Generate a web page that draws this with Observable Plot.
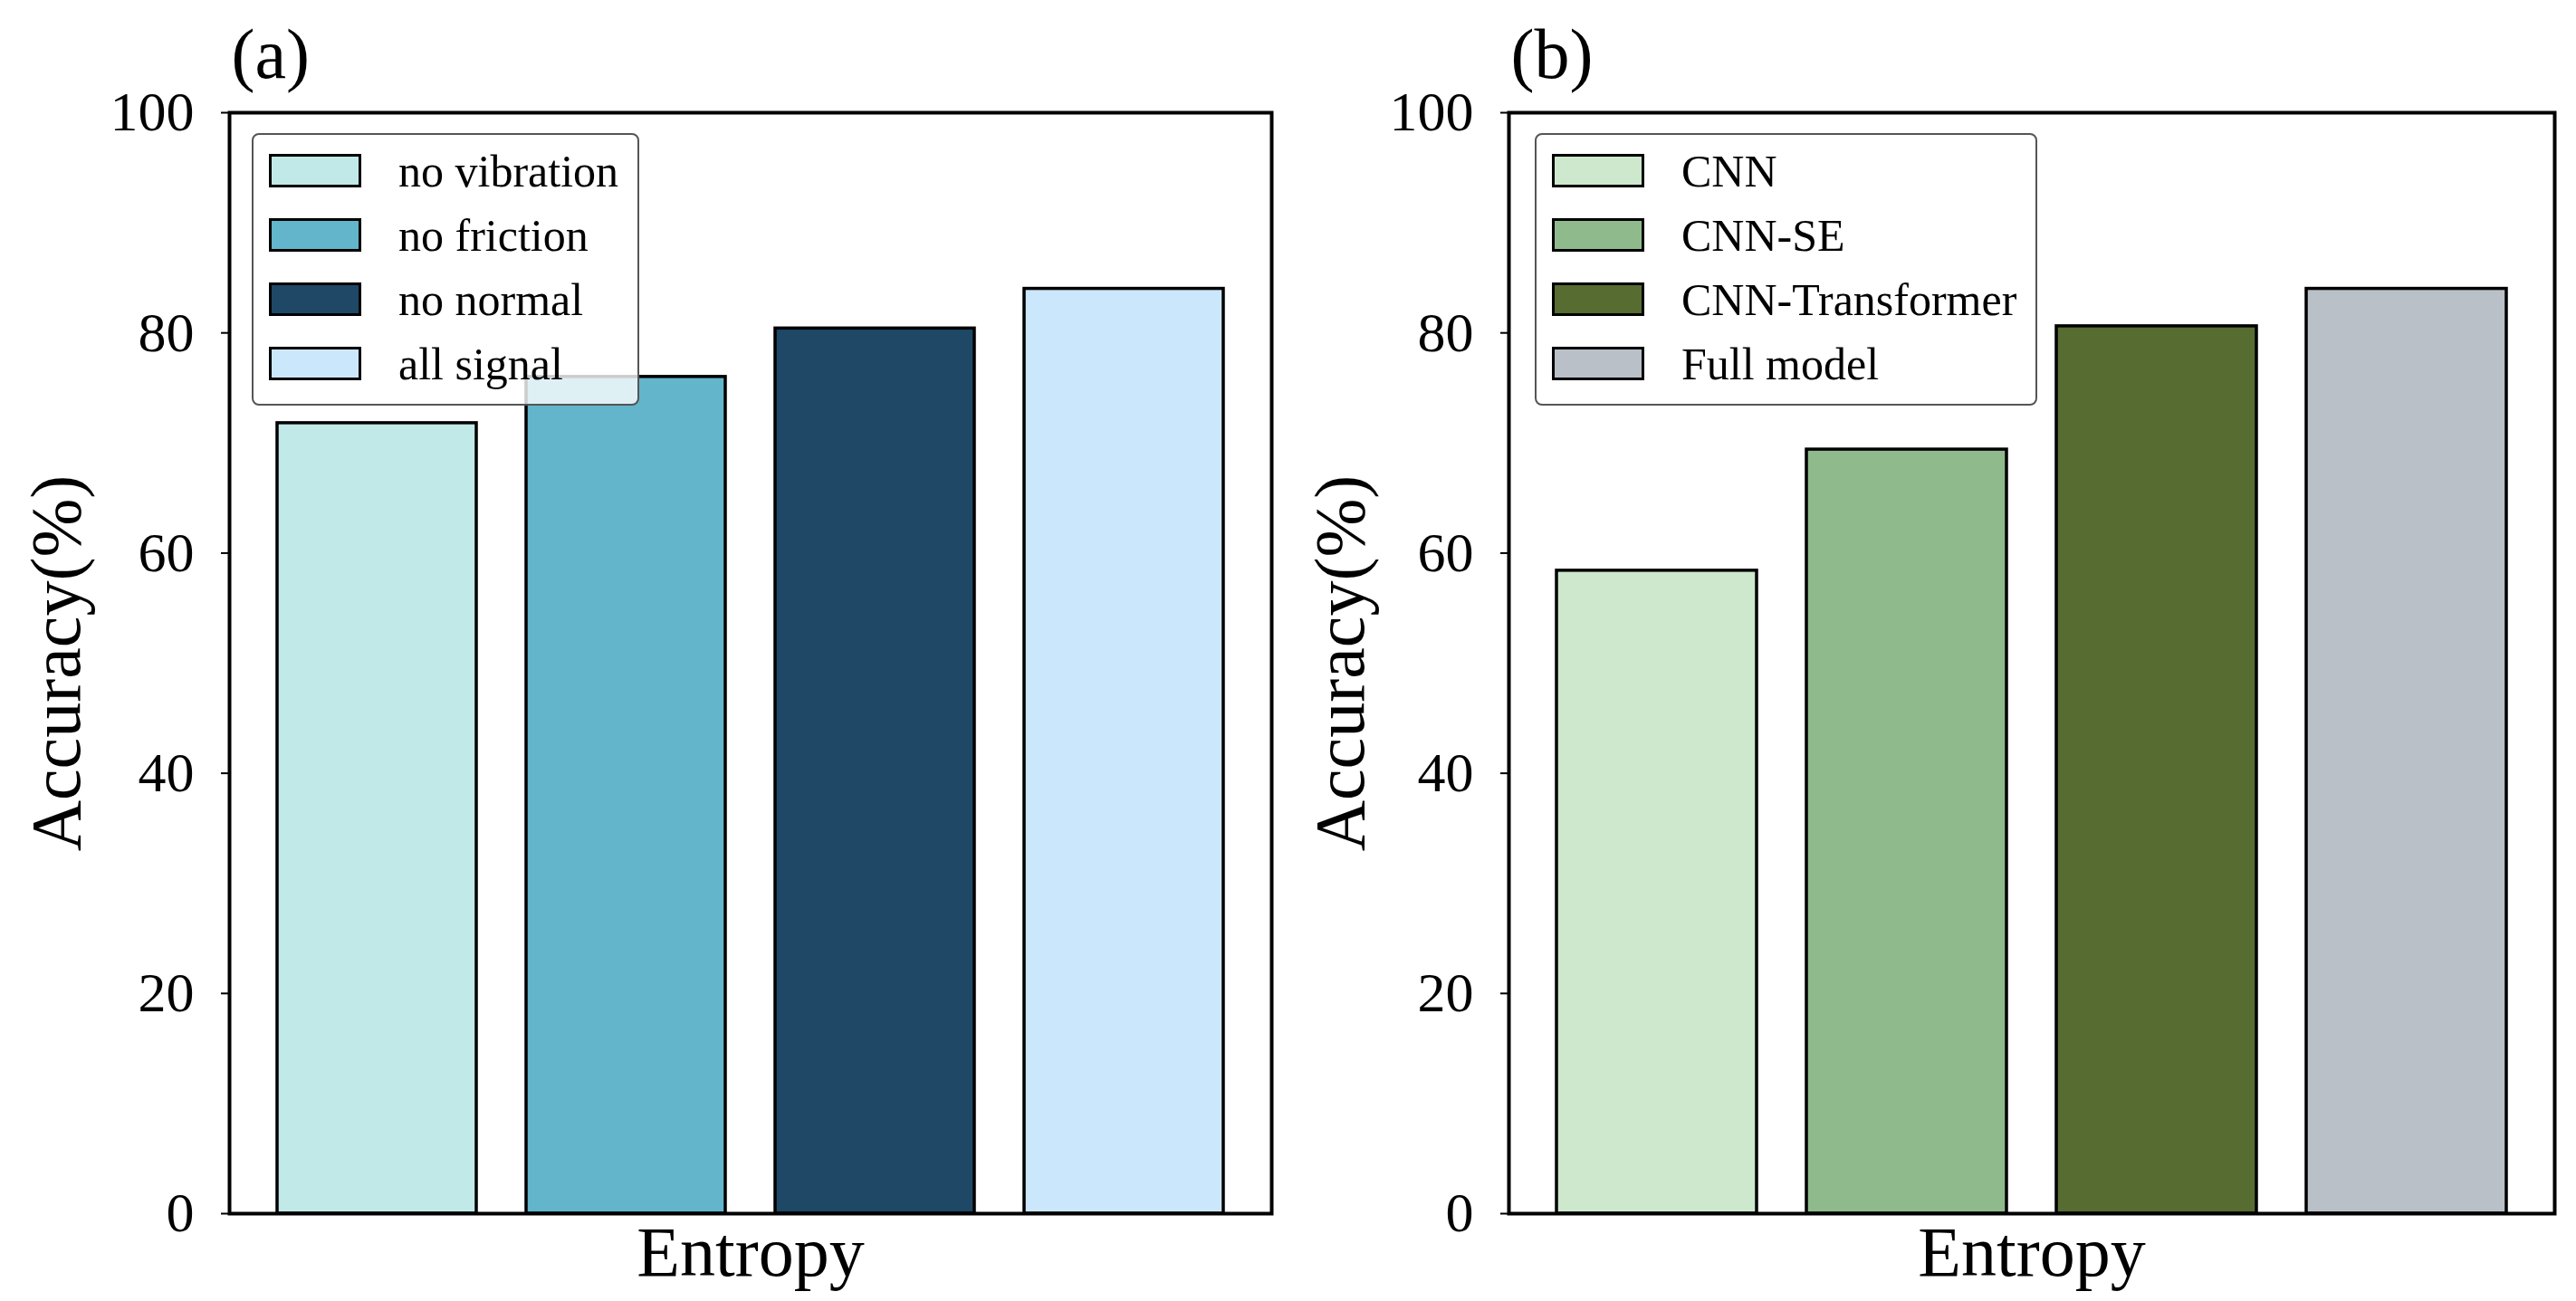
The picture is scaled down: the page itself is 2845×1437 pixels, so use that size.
<!DOCTYPE html>
<html>
<head>
<meta charset="utf-8">
<script src="https://cdn.jsdelivr.net/npm/d3@7"></script>
<script src="https://cdn.jsdelivr.net/npm/@observablehq/plot@0.6"></script>
<style>
  body { margin: 0; background: #fff; overflow: hidden; font-family: "Liberation Serif", "Times New Roman", serif; }
  #fig { display: flex; width: 2845px; height: 1437px; }
  .panel { position: relative; }
  .legend {
    position: absolute; top: 147px;
    background: rgba(255, 255, 255, 0.8);
    border: 2px solid #555; border-radius: 8px;
    padding: 4px 21px 9px 17px; box-sizing: border-box;
  }
  .row { display: flex; align-items: center; height: 71px; font-size: 50px; color: #000; white-space: nowrap; }
  .sw { width: 102px; height: 37px; border: 3px solid #000; box-sizing: border-box; margin-right: 41px; }
</style>
</head>
<body>
<div id="fig"></div>
<script>
// panel (a): which signals are left out
const signalNames = ["no vibration", "no friction", "no normal", "all signal"];
const signalAcc = [71.8, 76.0, 80.4, 84.0];
const signalColors = ["#c0e9e7", "#62b5cb", "#1e4866", "#cbe7fb"];

// panel (b): model ablation
const modelNames = ["CNN", "CNN-SE", "CNN-Transformer", "Full model"];
const modelAcc = [58.4, 69.4, 80.6, 84.0];
const modelColors = ["#cde8cd", "#8fbb8c", "#576c31", "#b9c0c7"];

const yTicks = [0, 20, 40, 60, 80, 100];
const xLabel = "Entropy";
const yLabel = "Accuracy(%)";

function panel(tag, names, values, colors, {width, marginLeft, marginRight, legendLeft, yLabelDx}) {
  const data = names.map((name, i) => ({name, value: values[i]}));

  const chart = Plot.plot({
    width,
    height: 1437,
    marginLeft,
    marginRight,
    marginTop: 124,
    marginBottom: 97,
    style: {fontFamily: "'Liberation Serif', 'Times New Roman', serif", background: "white", overflow: "visible"},
    x: {type: "band", domain: names, paddingInner: 0.2, paddingOuter: 0.19, axis: null},
    y: {domain: [0, 100]},
    color: {domain: names, range: colors},
    marks: [
      Plot.barY(data, {x: "name", y: "value", fill: "name", stroke: "black", strokeWidth: 3.5}),
      Plot.frame({stroke: "black", strokeWidth: 4}),
      Plot.axisY({ticks: yTicks, tickFormat: d => d, tickSize: 9, tickPadding: 30, fontSize: 62, strokeWidth: 2, label: null}),
      Plot.text([xLabel], {text: d => d, frameAnchor: "bottom", lineAnchor: "bottom", dy: 68, fontSize: 78}),
      Plot.text([yLabel], {text: d => d, frameAnchor: "left", textAnchor: "middle", rotate: -90, lineAnchor: "middle", dx: yLabelDx, fontSize: 78}),
      Plot.text([tag], {text: d => d, frameAnchor: "top-left", textAnchor: "start", lineAnchor: "bottom", dx: 2, dy: -39, fontSize: 78})
    ]
  });

  const wrap = document.createElement("div");
  wrap.className = "panel";
  wrap.style.width = width + "px";
  wrap.appendChild(chart);

  const legend = document.createElement("div");
  legend.className = "legend";
  legend.style.left = legendLeft + "px";
  names.forEach((name, i) => {
    const row = document.createElement("div");
    row.className = "row";
    const sw = document.createElement("div");
    sw.className = "sw";
    sw.style.background = colors[i];
    const label = document.createElement("span");
    label.textContent = name;
    row.append(sw, label);
    legend.appendChild(row);
  });
  wrap.appendChild(legend);
  return wrap;
}

const fig = document.getElementById("fig");
fig.appendChild(panel("(a)", signalNames, signalAcc, signalColors,
  {width: 1422, marginLeft: 253, marginRight: 18, legendLeft: 278, yLabelDx: -190}));
fig.appendChild(panel("(b)", modelNames, modelAcc, modelColors,
  {width: 1423, marginLeft: 244, marginRight: 24, legendLeft: 273, yLabelDx: -185}));
</script>
</body>
</html>
